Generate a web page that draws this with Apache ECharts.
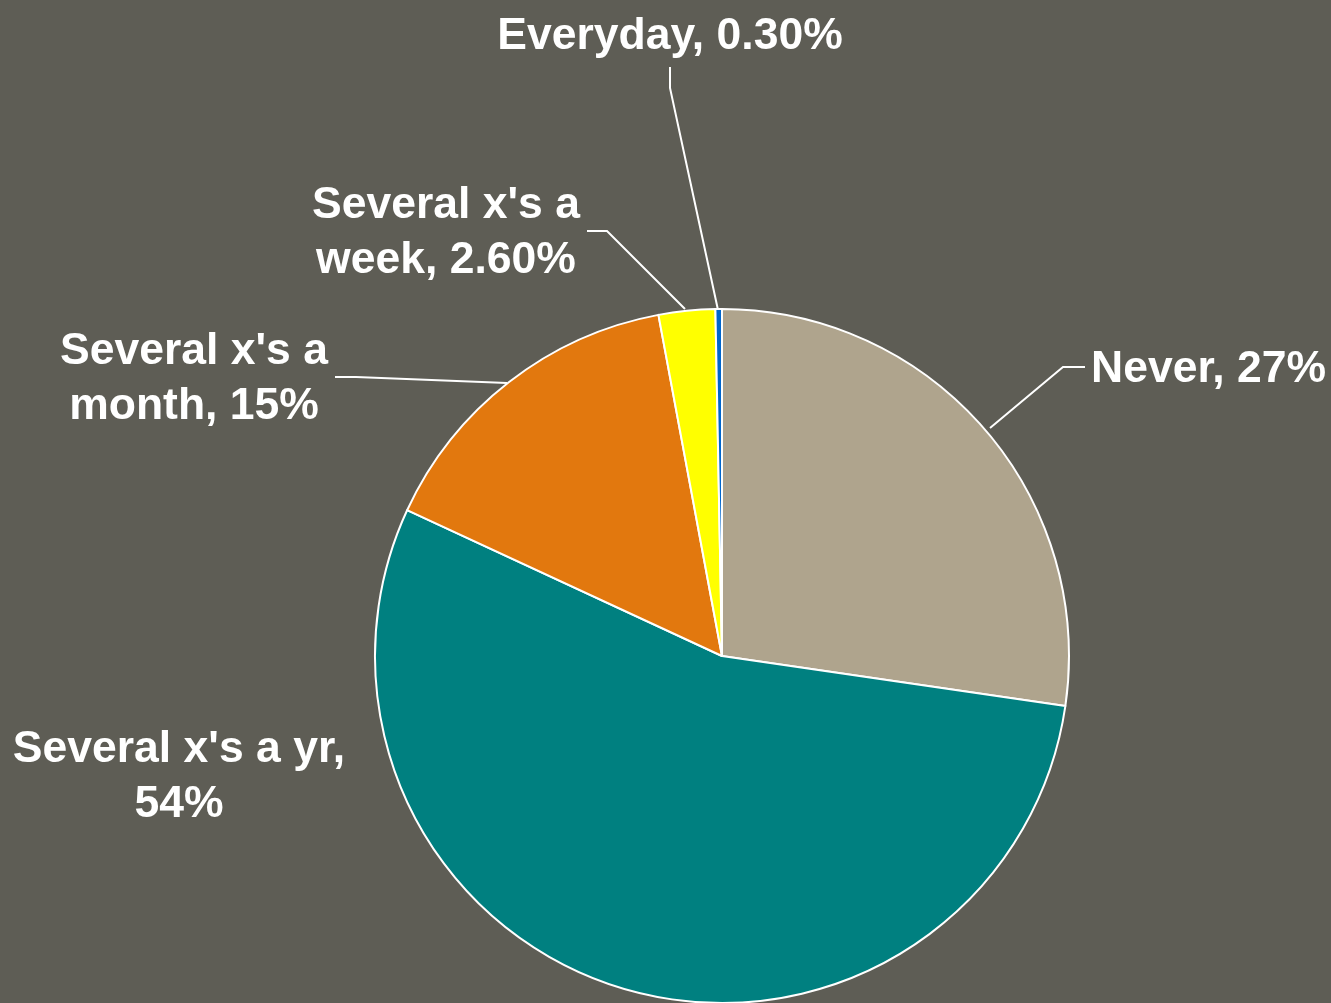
<!DOCTYPE html>
<html>
<head>
<meta charset="utf-8">
<script src="https://cdn.jsdelivr.net/npm/echarts@6/dist/echarts.min.js"></script>
<style>
html,body{margin:0;padding:0;background:#5E5D55;}
#c{width:1331px;height:1003px;}
</style>
</head>
<body>
<div id="c"></div>
<script>
// Data
var categories = ['Never', "Several x's a yr", "Several x's a month", "Several x's a week", 'Everyday'];
var values = [27, 54, 15, 2.6, 0.3];
var valueText = ['27%', '54%', '15%', '2.60%', '0.30%'];
var labelText = ['Never', "Several x's a yr,\n", "Several x's a\nmonth", "Several x's a\nweek", 'Everyday'];
var colors = ['#AFA48D', '#008080', '#E2780E', '#FFFF00', '#0066CC'];

// Label placement (layout, not data)
var labelPos = [
  {x: 1091, y: 370, align: 'left', line: [[990, 428], [1063, 367], [1085, 367]]},
  {x: 179, y: 777, align: 'center', line: null},
  {x: 194, y: 379, align: 'center', line: [[507, 383], [356, 377], [335, 377]]},
  {x: 446, y: 233, align: 'center', line: [[685, 309], [607, 231], [587, 231]]},
  {x: 670, y: 37, align: 'center', line: [[718, 310], [670, 88], [670, 67]]}
];

var chart = echarts.init(document.getElementById('c'));
var data = categories.map(function (n, i) {
  return {
    name: n,
    value: values[i],
    itemStyle: {color: colors[i]},
    label: {formatter: (i === 1) ? labelText[i] + valueText[i] : labelText[i] + ', ' + valueText[i]},
    labelLine: {show: labelPos[i].line !== null}
  };
});
chart.setOption({
  backgroundColor: '#5E5D55',
  animation: false,
  series: [{
    type: 'pie',
    center: [722, 656],
    radius: 347,
    startAngle: 90,
    clockwise: true,
    data: data,
    itemStyle: {borderColor: '#FFFFFF', borderWidth: 2},
    label: {
      show: true,
      position: 'outside',
      color: '#FFFFFF',
      fontSize: 44.5,
      fontWeight: 'bold',
      fontFamily: 'Liberation Sans, Arial, sans-serif',
      lineHeight: 55
    },
    labelLine: {show: true, lineStyle: {color: '#FFFFFF', width: 2}},
    labelLayout: function (p) {
      var lp = labelPos[p.dataIndex];
      var r = {x: lp.x, y: lp.y, align: lp.align, verticalAlign: 'middle'};
      if (lp.line) r.labelLinePoints = lp.line;
      return r;
    }
  }]
});
</script>
</body>
</html>
